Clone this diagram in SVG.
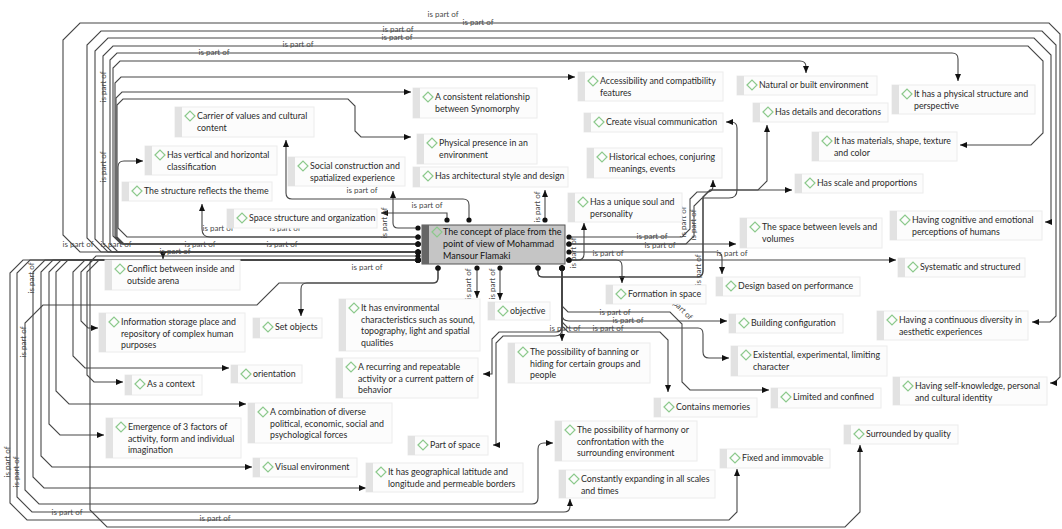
<svg xmlns="http://www.w3.org/2000/svg" width="1062" height="529" viewBox="0 0 1062 529">
<style>
.bg{fill:#ffffff}
.box{fill:#fcfcfc;stroke:#ececec;stroke-width:1}
.strip{fill:#e2e2e2}
.dia{fill:none;stroke:#8cc98c;stroke-width:1.2}
.t{font-family:Lato,"Open Sans",sans-serif;font-size:8.8px;fill:#2a2a2a}
.lbl{font-family:Lato,"Open Sans",sans-serif;font-size:8px;fill:#4a4a4a;text-anchor:middle}
.c path{fill:none;stroke:#474747;stroke-width:1.1;marker-start:url(#dot);marker-end:url(#arr)}
.main .box{fill:#c5c5c5;stroke:#555}
.main .strip{fill:#666}
.main .t{fill:#111;font-size:9px}
</style>
<defs>
<marker id="arr" viewBox="0 0 7 6" refX="7" refY="3" markerWidth="7" markerHeight="6" markerUnits="userSpaceOnUse" orient="auto"><path d="M0,0 L7,3 L0,6 Z" fill="#111"/></marker>
<marker id="dot" viewBox="0 0 6 6" refX="3" refY="3" markerWidth="6" markerHeight="6" markerUnits="userSpaceOnUse"><circle cx="3" cy="3" r="2.6" fill="#111"/></marker>
</defs>
<rect class="bg" x="0" y="0" width="1062" height="529"/>

<!-- connectors -->
<g id="connectors" class="c">
<path d="M418,228 H398 Q393,228 393,223 V191"/>
<path d="M447,220 V213 H381"/>
<path d="M469,220 V205 Q469,199 463,199 H292 Q286,199 286,193 V140"/>
<path d="M545,220 V190"/>
<path d="M418,237 H210 Q202,237 202,229 V204"/>
<path d="M418,237 H127 L118,228 V167 Q118,161 124,161 H143"/>
<path d="M418,244 H124 L117,237 V105 L123,99 H348 L355,106 V131 L361,137 H411"/>
<path d="M418,244 H123 L116,237 V98 L122,92 H411"/>
<path d="M418,244 H122 L115,237 V83 L121,77 H575"/>
<path d="M418,244 H121 L113,236 V68 L120,61 H800 Q806,61 806,67 V73"/>
<path d="M418,252 H118 L110,244 V60 L117,53 H952 Q958,53 958,59 V81"/>
<path d="M418,252 H112 L103,243 V56 L113,46 H1028 L1043,61 V133 L1031,145 H960"/>
<path d="M418,252 H108 L95,239 V51 L108,38 H1034 L1051,55 V222 H1045"/>
<path d="M418,252 H101 L87,238 V45 L101,31 H1042 L1056,45 V316 L1050,322 H1032"/>
<path d="M418,252 H80 L63,235 V40 L80,23 H1049 L1060,34 V377 L1054,383 H1050"/>
<path d="M418,252 H163 V259"/>
<path d="M418,260 H93 L81,272 V321 L88,328 H98"/>
<path d="M418,260 H99 L87,272 V375 L94,382 H123"/>
<path d="M418,260 H85 L73,272 V356 L85,368 H229"/>
<path d="M418,260 H68 L56,272 V391 L69,404 H246"/>
<path d="M418,260 H61 L49,272 V424 L60,435 H104"/>
<path d="M418,260 H53 L41,272 V456 L52,467 H252"/>
<path d="M418,260 H45 L33,272 V477 L44,488 H366"/>
<path d="M438,268 V278 Q438,283 433,283 H279 L257,305 H43 L25,323 V490 L39,504 H532 Q538,504 538,498 V449 Q538,443 544,443 H553"/>
<path d="M438,268 V278 Q438,283 433,283 H307 Q301,283 301,289 V316"/>
<path d="M418,260 H30 L17,273 V497 L32,512 H564 Q570,512 570,506 V499"/>
<path d="M418,260 H23 L10,273 V503 L27,520 H729 L737,512 V469"/>
<path d="M418,256 H96 L90,262 V510 L107,527 H845 L860,512 V445"/>
<path d="M477,268 V298"/>
<path d="M500,268 V300"/>
<path d="M562,268 V341"/>
<path d="M562,268 V314 Q562,321 569,321 H727"/>
<path d="M562,268 V322 L568,328 H698 Q703,328 703,334 V352 Q703,358 709,358 H729"/>
<path d="M562,268 V306 L568,312 H670 L682,324 V382 L690,390 H769"/>
<path d="M562,268 V326 L568,332 H660 L668,340 V392"/>
<path d="M562,268 V326 Q562,332 556,332 H499 L492,339 V374 H483"/>
<path d="M562,268 V329 Q562,336 555,336 H503 L496,343 V445 H493"/>
<path d="M569,252 H716 Q722,252 722,258 V274"/>
<path d="M569,260 H896"/>
<path d="M569,244 H736"/>
<path d="M569,260 H616 Q622,260 622,266 V283"/>
<path d="M569,260 H578 Q584,260 584,254 V223"/>
<path d="M569,237 H682 L690,229 V199 L697,192 H707 Q713,192 713,186 V180"/>
<path d="M569,244 H686 L694,236 V206 L702,198 H729 Q737,198 737,190 V128 Q737,122 731,122 H726"/>
<path d="M538,268 V273 Q538,277 543,277 H697 Q703,277 703,271 V197 L710,190 H792"/>
<path d="M538,268 V273 Q538,277 543,277 H697 Q703,277 703,271 V197 L710,190 H758 L767,181 V125"/>
</g>

<!-- connector labels -->
<g id="labels">
<text class="lbl" x="443" y="17">is part of</text>
<text class="lbl" x="478" y="25">is part of</text>
<text class="lbl" x="398" y="32">is part of</text>
<text class="lbl" x="397" y="40">is part of</text>
<text class="lbl" x="298" y="47">is part of</text>
<text class="lbl" x="214" y="55">is part of</text>
<text class="lbl" transform="translate(106,87) rotate(-90)">is part of</text>
<text class="lbl" transform="translate(106,167) rotate(-90)">is part of</text>
<text class="lbl" x="78" y="247">is part of</text>
<text class="lbl" x="116" y="247">is part of</text>
<text class="lbl" x="200" y="247">is part of</text>
<text class="lbl" x="282" y="247">is part of</text>
<text class="lbl" x="175" y="254">is part of</text>
<text class="lbl" x="285" y="231">is part of</text>
<text class="lbl" x="218" y="231">is part of</text>
<text class="lbl" x="362" y="193">is part of</text>
<text class="lbl" x="427" y="208">is part of</text>
<text class="lbl" x="367" y="270">is part of</text>
<text class="lbl" transform="translate(387,223) rotate(-90)">is part of</text>
<text class="lbl" transform="translate(540,207) rotate(-90)">is part of</text>
<text class="lbl" transform="translate(34,278) rotate(-90)">is part of</text>
<text class="lbl" transform="translate(26,342) rotate(-90)">is part of</text>
<text class="lbl" transform="translate(10,462) rotate(-90)">is part of</text>
<text class="lbl" transform="translate(19,472) rotate(-90)">is part of</text>
<text class="lbl" x="67" y="515">is part of</text>
<text class="lbl" x="215" y="521">is part of</text>
<text class="lbl" transform="translate(471,284) rotate(-90)">is part of</text>
<text class="lbl" transform="translate(495,284) rotate(-90)">is part of</text>
<text class="lbl" x="652" y="239">is part of</text>
<text class="lbl" x="660" y="248">is part of</text>
<text class="lbl" x="608" y="256">is part of</text>
<text class="lbl" x="732" y="256">is part of</text>
<text class="lbl" transform="translate(686,222) rotate(-90)">is part of</text>
<text class="lbl" transform="translate(696,225) rotate(-90)">is part of</text>
<text class="lbl" transform="translate(701,270) rotate(-90)">is part of</text>
<text class="lbl" transform="translate(576,253) rotate(-90)">is part of</text>
<text class="lbl" x="615" y="315">is part of</text>
<text class="lbl" x="628" y="323">is part of</text>
<text class="lbl" x="565" y="331">is part of</text>
<text class="lbl" x="608" y="331">is part of</text>
<text class="lbl" transform="translate(681,312) rotate(45)">part of</text>
</g>

<!-- nodes -->
<g id="n-main" class="main"><rect class="box" x="422" y="225" width="143" height="39"/><rect class="strip" x="422" y="225" width="7" height="39"/><path class="dia" d="M432,232 l5,-5 l5,5 l-5,5 Z"/><text class="t" x="443" y="235">The concept of place from the</text><text class="t" x="443" y="247">point of view of Mohammad</text><text class="t" x="443" y="259">Mansour Flamaki</text></g>

<g id="n-carrier"><rect class="box" x="175" y="107" width="139" height="30"/><rect class="strip" x="175" y="107" width="7" height="30"/><path class="dia" d="M185,116 l5,-5 l5,5 l-5,5 Z"/><text class="t" x="197" y="119">Carrier of values and cultural</text><text class="t" x="197" y="130.5">content</text></g>
<g id="n-vertical"><rect class="box" x="145" y="146" width="132" height="29"/><rect class="strip" x="145" y="146" width="7" height="29"/><path class="dia" d="M155,155 l5,-5 l5,5 l-5,5 Z"/><text class="t" x="167" y="158">Has vertical and horizontal</text><text class="t" x="167" y="169.5">classification</text></g>
<g id="n-theme"><rect class="box" x="122" y="182" width="150" height="19"/><rect class="strip" x="122" y="182" width="7" height="19"/><path class="dia" d="M132,191 l5,-5 l5,5 l-5,5 Z"/><text class="t" x="144" y="194">The structure reflects the theme</text></g>
<g id="n-spacestruct"><rect class="box" x="227" y="209" width="150" height="19"/><rect class="strip" x="227" y="209" width="7" height="19"/><path class="dia" d="M237,218 l5,-5 l5,5 l-5,5 Z"/><text class="t" x="249" y="221">Space structure and organization</text></g>
<g id="n-social"><rect class="box" x="288" y="157" width="117" height="29"/><rect class="strip" x="288" y="157" width="7" height="29"/><path class="dia" d="M298,166 l5,-5 l5,5 l-5,5 Z"/><text class="t" x="310" y="169">Social construction and</text><text class="t" x="310" y="180.5">spatialized experience</text></g>
<g id="n-consistent"><rect class="box" x="413" y="88" width="124" height="30"/><rect class="strip" x="413" y="88" width="7" height="30"/><path class="dia" d="M423,97 l5,-5 l5,5 l-5,5 Z"/><text class="t" x="435" y="100">A consistent relationship</text><text class="t" x="435" y="111.5">between Synomorphy</text></g>
<g id="n-presence"><rect class="box" x="417" y="134" width="120" height="30"/><rect class="strip" x="417" y="134" width="7" height="30"/><path class="dia" d="M427,143 l5,-5 l5,5 l-5,5 Z"/><text class="t" x="439" y="146">Physical presence in an</text><text class="t" x="439" y="157.5">environment</text></g>
<g id="n-architectural"><rect class="box" x="413" y="167" width="155" height="20"/><rect class="strip" x="413" y="167" width="7" height="20"/><path class="dia" d="M423,176 l5,-5 l5,5 l-5,5 Z"/><text class="t" x="435" y="179">Has architectural style and design</text></g>
<g id="n-accessibility"><rect class="box" x="578" y="72" width="145" height="29"/><rect class="strip" x="578" y="72" width="7" height="29"/><path class="dia" d="M588,81 l5,-5 l5,5 l-5,5 Z"/><text class="t" x="600" y="84">Accessibility and compatibility</text><text class="t" x="600" y="95.5">features</text></g>
<g id="n-create"><rect class="box" x="584" y="113" width="139" height="19"/><rect class="strip" x="584" y="113" width="7" height="19"/><path class="dia" d="M594,122 l5,-5 l5,5 l-5,5 Z"/><text class="t" x="606" y="125">Create visual communication</text></g>
<g id="n-historical"><rect class="box" x="587" y="148" width="135" height="30"/><rect class="strip" x="587" y="148" width="7" height="30"/><path class="dia" d="M597,157 l5,-5 l5,5 l-5,5 Z"/><text class="t" x="609" y="160">Historical echoes, conjuring</text><text class="t" x="609" y="171.5">meanings, events</text></g>
<g id="n-natural"><rect class="box" x="737" y="76" width="140" height="19"/><rect class="strip" x="737" y="76" width="7" height="19"/><path class="dia" d="M747,85 l5,-5 l5,5 l-5,5 Z"/><text class="t" x="759" y="88">Natural or built environment</text></g>
<g id="n-details"><rect class="box" x="753" y="103" width="135" height="19"/><rect class="strip" x="753" y="103" width="7" height="19"/><path class="dia" d="M763,112 l5,-5 l5,5 l-5,5 Z"/><text class="t" x="775" y="115">Has details and decorations</text></g>
<g id="n-physstruct"><rect class="box" x="892" y="85" width="143" height="29"/><rect class="strip" x="892" y="85" width="7" height="29"/><path class="dia" d="M902,94 l5,-5 l5,5 l-5,5 Z"/><text class="t" x="914" y="97">It has a physical structure and</text><text class="t" x="914" y="108.5">perspective</text></g>
<g id="n-materials"><rect class="box" x="812" y="132" width="145" height="29"/><rect class="strip" x="812" y="132" width="7" height="29"/><path class="dia" d="M822,141 l5,-5 l5,5 l-5,5 Z"/><text class="t" x="834" y="144">It has materials, shape, texture</text><text class="t" x="834" y="155.5">and color</text></g>
<g id="n-scale"><rect class="box" x="795" y="174" width="128" height="19"/><rect class="strip" x="795" y="174" width="7" height="19"/><path class="dia" d="M805,183 l5,-5 l5,5 l-5,5 Z"/><text class="t" x="817" y="186">Has scale and proportions</text></g>
<g id="n-unique"><rect class="box" x="568" y="193" width="114" height="29"/><rect class="strip" x="568" y="193" width="7" height="29"/><path class="dia" d="M578,202 l5,-5 l5,5 l-5,5 Z"/><text class="t" x="590" y="205">Has a unique soul and</text><text class="t" x="590" y="216.5">personality</text></g>
<g id="n-between"><rect class="box" x="740" y="218" width="142" height="30"/><rect class="strip" x="740" y="218" width="7" height="30"/><path class="dia" d="M750,227 l5,-5 l5,5 l-5,5 Z"/><text class="t" x="762" y="230">The space between levels and</text><text class="t" x="762" y="241.5">volumes</text></g>
<g id="n-cognitive"><rect class="box" x="890" y="211" width="152" height="29"/><rect class="strip" x="890" y="211" width="7" height="29"/><path class="dia" d="M900,220 l5,-5 l5,5 l-5,5 Z"/><text class="t" x="912" y="223">Having cognitive and emotional</text><text class="t" x="912" y="234.5">perceptions of humans</text></g>
<g id="n-systematic"><rect class="box" x="898" y="258" width="127" height="19"/><rect class="strip" x="898" y="258" width="7" height="19"/><path class="dia" d="M908,267 l5,-5 l5,5 l-5,5 Z"/><text class="t" x="920" y="270">Systematic and structured</text></g>
<g id="n-design"><rect class="box" x="716" y="277" width="144" height="19"/><rect class="strip" x="716" y="277" width="7" height="19"/><path class="dia" d="M726,286 l5,-5 l5,5 l-5,5 Z"/><text class="t" x="738" y="289">Design based on performance</text></g>
<g id="n-formation"><rect class="box" x="606" y="285" width="100" height="19"/><rect class="strip" x="606" y="285" width="7" height="19"/><path class="dia" d="M616,294 l5,-5 l5,5 l-5,5 Z"/><text class="t" x="628" y="297">Formation in space</text></g>
<g id="n-building"><rect class="box" x="729" y="314" width="114" height="19"/><rect class="strip" x="729" y="314" width="7" height="19"/><path class="dia" d="M739,323 l5,-5 l5,5 l-5,5 Z"/><text class="t" x="751" y="326">Building configuration</text></g>
<g id="n-continuous"><rect class="box" x="877" y="311" width="151" height="29"/><rect class="strip" x="877" y="311" width="7" height="29"/><path class="dia" d="M887,320 l5,-5 l5,5 l-5,5 Z"/><text class="t" x="899" y="323">Having a continuous diversity in</text><text class="t" x="899" y="334.5">aesthetic experiences</text></g>
<g id="n-existential"><rect class="box" x="731" y="346" width="156" height="30"/><rect class="strip" x="731" y="346" width="7" height="30"/><path class="dia" d="M741,355 l5,-5 l5,5 l-5,5 Z"/><text class="t" x="753" y="358">Existential, experimental, limiting</text><text class="t" x="753" y="369.5">character</text></g>
<g id="n-limited"><rect class="box" x="771" y="388" width="110" height="20"/><rect class="strip" x="771" y="388" width="7" height="20"/><path class="dia" d="M781,397 l5,-5 l5,5 l-5,5 Z"/><text class="t" x="793" y="400">Limited and confined</text></g>
<g id="n-selfknow"><rect class="box" x="893" y="377" width="154" height="28"/><rect class="strip" x="893" y="377" width="7" height="28"/><path class="dia" d="M903,386 l5,-5 l5,5 l-5,5 Z"/><text class="t" x="915" y="389">Having self-knowledge, personal</text><text class="t" x="915" y="400.5">and cultural identity</text></g>
<g id="n-surrounded"><rect class="box" x="844" y="425" width="114" height="19"/><rect class="strip" x="844" y="425" width="7" height="19"/><path class="dia" d="M854,434 l5,-5 l5,5 l-5,5 Z"/><text class="t" x="866" y="437">Surrounded by quality</text></g>
<g id="n-fixed"><rect class="box" x="720" y="449" width="110" height="19"/><rect class="strip" x="720" y="449" width="7" height="19"/><path class="dia" d="M730,458 l5,-5 l5,5 l-5,5 Z"/><text class="t" x="742" y="461">Fixed and immovable</text></g>
<g id="n-contains"><rect class="box" x="654" y="398" width="103" height="19"/><rect class="strip" x="654" y="398" width="7" height="19"/><path class="dia" d="M664,407 l5,-5 l5,5 l-5,5 Z"/><text class="t" x="676" y="410">Contains memories</text></g>
<g id="n-banning"><rect class="box" x="508" y="343" width="142" height="40"/><rect class="strip" x="508" y="343" width="7" height="40"/><path class="dia" d="M518,352 l5,-5 l5,5 l-5,5 Z"/><text class="t" x="530" y="355">The possibility of banning or</text><text class="t" x="530" y="366.5">hiding for certain groups and</text><text class="t" x="530" y="378">people</text></g>
<g id="n-harmony"><rect class="box" x="555" y="421" width="142" height="40"/><rect class="strip" x="555" y="421" width="7" height="40"/><path class="dia" d="M565,430 l5,-5 l5,5 l-5,5 Z"/><text class="t" x="577" y="433">The possibility of harmony or</text><text class="t" x="577" y="444.5">confrontation with the</text><text class="t" x="577" y="456">surrounding environment</text></g>
<g id="n-constantly"><rect class="box" x="559" y="470" width="156" height="28"/><rect class="strip" x="559" y="470" width="7" height="28"/><path class="dia" d="M569,479 l5,-5 l5,5 l-5,5 Z"/><text class="t" x="581" y="482">Constantly expanding in all scales</text><text class="t" x="581" y="493.5">and times</text></g>
<g id="n-partspace"><rect class="box" x="408" y="436" width="80" height="19"/><rect class="strip" x="408" y="436" width="7" height="19"/><path class="dia" d="M418,445 l5,-5 l5,5 l-5,5 Z"/><text class="t" x="430" y="448">Part of space</text></g>
<g id="n-geo"><rect class="box" x="366" y="463" width="157" height="29"/><rect class="strip" x="366" y="463" width="7" height="29"/><path class="dia" d="M376,472 l5,-5 l5,5 l-5,5 Z"/><text class="t" x="388" y="475">It has geographical latitude and</text><text class="t" x="388" y="486.5">longitude and permeable borders</text></g>
<g id="n-visual"><rect class="box" x="253" y="458" width="104" height="19"/><rect class="strip" x="253" y="458" width="7" height="19"/><path class="dia" d="M263,467 l5,-5 l5,5 l-5,5 Z"/><text class="t" x="275" y="470">Visual environment</text></g>
<g id="n-combo"><rect class="box" x="248" y="403" width="144" height="40"/><rect class="strip" x="248" y="403" width="7" height="40"/><path class="dia" d="M258,412 l5,-5 l5,5 l-5,5 Z"/><text class="t" x="270" y="415">A combination of diverse</text><text class="t" x="270" y="426.5">political, economic, social and</text><text class="t" x="270" y="438">psychological forces</text></g>
<g id="n-recurring"><rect class="box" x="336" y="358" width="142" height="40"/><rect class="strip" x="336" y="358" width="7" height="40"/><path class="dia" d="M346,367 l5,-5 l5,5 l-5,5 Z"/><text class="t" x="358" y="370">A recurring and repeatable</text><text class="t" x="358" y="381.5">activity or a current pattern of</text><text class="t" x="358" y="393">behavior</text></g>
<g id="n-orientation"><rect class="box" x="231" y="365" width="71" height="18"/><rect class="strip" x="231" y="365" width="7" height="18"/><path class="dia" d="M241,374 l5,-5 l5,5 l-5,5 Z"/><text class="t" x="253" y="377">orientation</text></g>
<g id="n-context"><rect class="box" x="125" y="375" width="77" height="20"/><rect class="strip" x="125" y="375" width="7" height="20"/><path class="dia" d="M135,384 l5,-5 l5,5 l-5,5 Z"/><text class="t" x="147" y="387">As a context</text></g>
<g id="n-emergence"><rect class="box" x="106" y="418" width="135" height="40"/><rect class="strip" x="106" y="418" width="7" height="40"/><path class="dia" d="M116,427 l5,-5 l5,5 l-5,5 Z"/><text class="t" x="128" y="430">Emergence of 3 factors of</text><text class="t" x="128" y="441.5">activity, form and individual</text><text class="t" x="128" y="453">imagination</text></g>
<g id="n-info"><rect class="box" x="99" y="313" width="146" height="39"/><rect class="strip" x="99" y="313" width="7" height="39"/><path class="dia" d="M109,322 l5,-5 l5,5 l-5,5 Z"/><text class="t" x="121" y="325">Information storage place and</text><text class="t" x="121" y="336.5">repository of complex human</text><text class="t" x="121" y="348">purposes</text></g>
<g id="n-setobj"><rect class="box" x="253" y="318" width="69" height="20"/><rect class="strip" x="253" y="318" width="7" height="20"/><path class="dia" d="M263,327 l5,-5 l5,5 l-5,5 Z"/><text class="t" x="275" y="330">Set objects</text></g>
<g id="n-environmental"><rect class="box" x="339" y="299" width="141" height="52"/><rect class="strip" x="339" y="299" width="7" height="52"/><path class="dia" d="M349,308 l5,-5 l5,5 l-5,5 Z"/><text class="t" x="361" y="311">It has environmental</text><text class="t" x="361" y="322.5">characteristics such as sound,</text><text class="t" x="361" y="334">topography, light and spatial</text><text class="t" x="361" y="345.5">qualities</text></g>
<g id="n-objective"><rect class="box" x="488" y="302" width="62" height="18"/><rect class="strip" x="488" y="302" width="7" height="18"/><path class="dia" d="M498,311 l5,-5 l5,5 l-5,5 Z"/><text class="t" x="510" y="314">objective</text></g>
<g id="n-conflict"><rect class="box" x="105" y="260" width="135" height="30"/><rect class="strip" x="105" y="260" width="7" height="30"/><path class="dia" d="M115,269 l5,-5 l5,5 l-5,5 Z"/><text class="t" x="127" y="272">Conflict between inside and</text><text class="t" x="127" y="283.5">outside arena</text></g>
</svg>
